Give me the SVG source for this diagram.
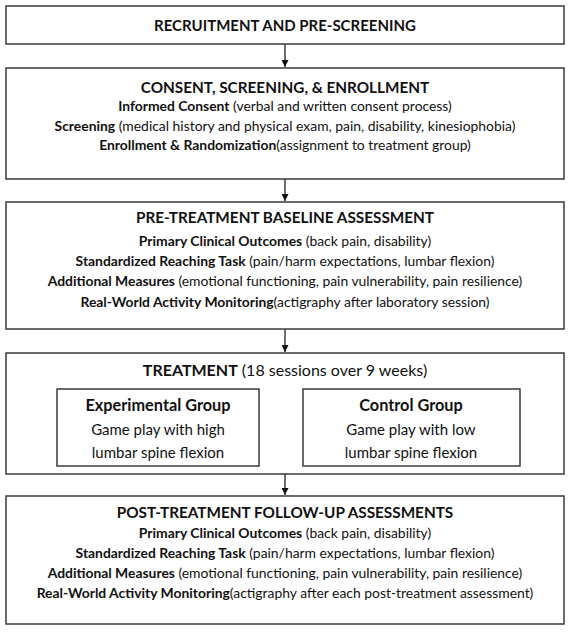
<svg xmlns="http://www.w3.org/2000/svg" width="572" height="632" viewBox="0 0 572 632">
<style>
.box{fill:#fff;stroke:#3a3a3a;stroke-width:1.5}
text{font-family:Lato,"Open Sans","Liberation Sans",sans-serif;fill:#111;text-anchor:middle}
.h{font-weight:bold;font-size:15.3px}
.t{font-size:13.9px}
.g{font-size:15px}
.gb{font-size:16.3px;font-weight:bold}
.b{font-weight:bold}
.c{stroke:#222;stroke-width:1.3;fill:none}
</style>
<defs>
<marker id="ah" viewBox="0 0 10 10" refX="10" refY="5" markerWidth="7" markerHeight="7" markerUnits="userSpaceOnUse" orient="auto">
<path d="M0,0 L10,5 L0,10 z" fill="#111"/>
</marker>
</defs>
<rect width="572" height="632" fill="#fff"/>
<g id="connectors">
<line class="c" x1="285" y1="44" x2="285" y2="67" marker-end="url(#ah)"/>
<line class="c" x1="285" y1="179" x2="285" y2="201" marker-end="url(#ah)"/>
<line class="c" x1="285" y1="329" x2="285" y2="352" marker-end="url(#ah)"/>
<line class="c" x1="285" y1="474" x2="285" y2="495" marker-end="url(#ah)"/>
</g>
<g id="recruitment">
<rect class="box" x="6" y="6" width="558" height="38"/>
<text class="h" x="285" y="31" style="font-size:15px">RECRUITMENT AND PRE-SCREENING</text>
</g>
<g id="consent">
<rect class="box" x="6" y="68" width="558" height="111"/>
<text class="h" x="285" y="93">CONSENT, SCREENING, &amp; ENROLLMENT</text>
<text class="t" x="285" y="111"><tspan class="b">Informed Consent</tspan> (verbal and written consent process)</text>
<text class="t" x="285" y="131"><tspan class="b">Screening</tspan> (medical history and physical exam, pain, disability, kinesiophobia)</text>
<text class="t" x="285" y="150"><tspan class="b">Enrollment &amp; Randomization</tspan>(assignment to treatment group)</text>
</g>
<g id="baseline">
<rect class="box" x="6" y="202" width="558" height="127"/>
<text class="h" x="285" y="223">PRE-TREATMENT BASELINE ASSESSMENT</text>
<text class="t" x="285" y="246"><tspan class="b">Primary Clinical Outcomes</tspan> (back pain, disability)</text>
<text class="t" x="285" y="266"><tspan class="b">Standardized Reaching Task</tspan> (pain/harm expectations, lumbar flexion)</text>
<text class="t" x="285" y="286"><tspan class="b">Additional Measures</tspan> (emotional functioning, pain vulnerability, pain resilience)</text>
<text class="t" x="285" y="307"><tspan class="b">Real-World Activity Monitoring</tspan>(actigraphy after laboratory session)</text>
</g>
<g id="treatment">
<rect class="box" x="6" y="353" width="558" height="121"/>
<text class="g" x="285" y="376" style="font-size:16px"><tspan class="b">TREATMENT</tspan> (18 sessions over 9 weeks)</text>
</g>
<g id="experimental">
<rect class="box" x="57" y="389" width="202" height="77"/>
<text class="gb" x="158" y="411">Experimental Group</text>
<text class="g" x="158" y="435">Game play with high</text>
<text class="g" x="158" y="458">lumbar spine flexion</text>
</g>
<g id="control">
<rect class="box" x="303" y="389" width="217" height="77"/>
<text class="gb" x="411" y="411">Control Group</text>
<text class="g" x="411" y="435">Game play with low</text>
<text class="g" x="411" y="458">lumbar spine flexion</text>
</g>
<g id="followup">
<rect class="box" x="6" y="496" width="558" height="128"/>
<text class="h" x="285" y="518">POST-TREATMENT FOLLOW-UP ASSESSMENTS</text>
<text class="t" x="285" y="538"><tspan class="b">Primary Clinical Outcomes</tspan>  (back pain, disability)</text>
<text class="t" x="285" y="558"><tspan class="b">Standardized Reaching Task</tspan> (pain/harm expectations, lumbar flexion)</text>
<text class="t" x="285" y="578"><tspan class="b">Additional Measures</tspan> (emotional functioning, pain vulnerability, pain resilience)</text>
<text class="t" x="285" y="598"><tspan class="b">Real-World Activity Monitoring</tspan>(actigraphy after each post-treatment assessment)</text>
</g>
</svg>
